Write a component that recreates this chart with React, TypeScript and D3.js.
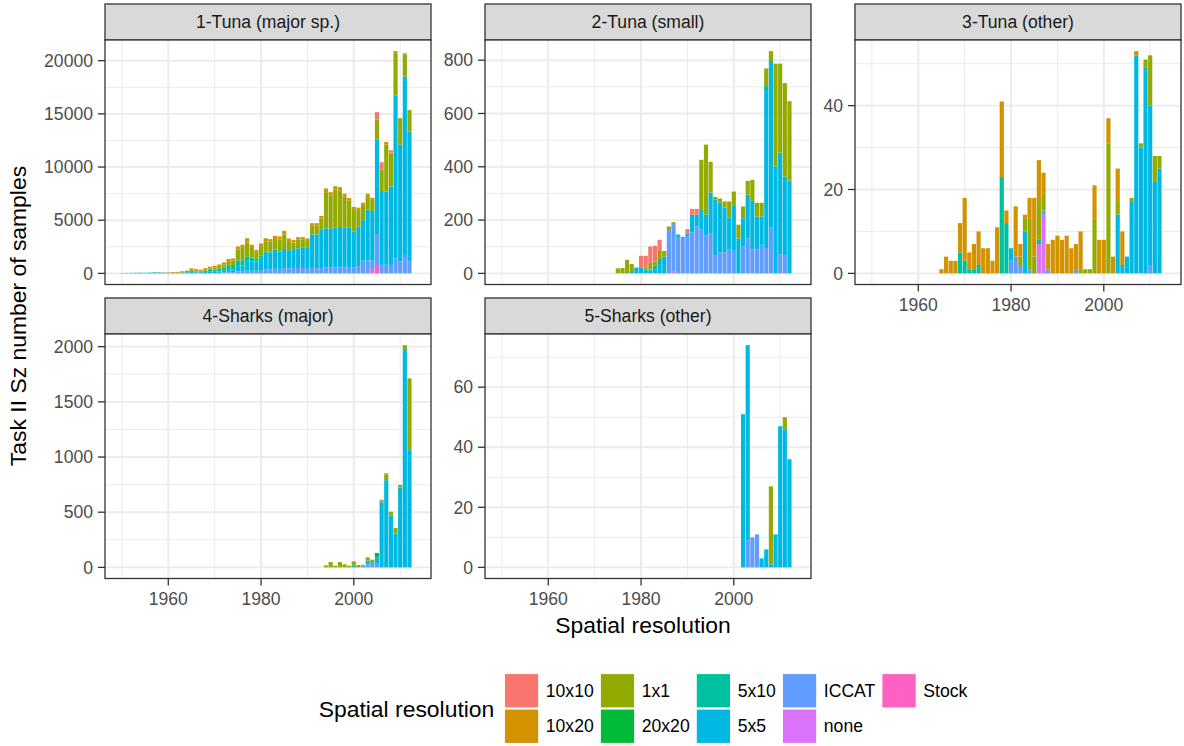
import * as d3 from 'd3';

// legend order; bars stack with the last entry at the bottom
const SERIES = ['10x10', '10x20', '1x1', '20x20', '5x10', '5x5', 'ICCAT', 'none', 'Stock'];
const COLOURS = ['#F8766D', '#D39200', '#93AA00', '#00BA38', '#00C19F', '#00B9E3', '#619CFF', '#DB72FB', '#FF61C3'];

// full year extent shared by all facets
const YEAR_FIRST = 1950;
const YEAR_LAST = 2013;
const X_TICKS = [1960, 1980, 2000];
const X_MINOR = [1950, 1970, 1990, 2010];

// rows: [year, 10x10, 10x20, 1x1, 20x20, 5x10, 5x5, ICCAT, none, Stock]
const tunaMajor = [
    [1950, 0, 0, 0, 0, 0, 30, 0, 0, 0],
    [1951, 0, 0, 0, 0, 0, 40, 0, 0, 0],
    [1952, 0, 0, 0, 0, 0, 50, 0, 0, 0],
    [1953, 0, 0, 0, 0, 0, 60, 0, 0, 0],
    [1954, 0, 0, 0, 0, 20, 50, 0, 0, 0],
    [1955, 0, 0, 0, 0, 0, 60, 0, 0, 0],
    [1956, 0, 0, 0, 0, 30, 50, 0, 0, 0],
    [1957, 0, 0, 0, 0, 40, 70, 0, 0, 0],
    [1958, 0, 0, 0, 0, 40, 60, 0, 0, 0],
    [1959, 0, 30, 0, 0, 0, 60, 0, 0, 0],
    [1960, 0, 40, 0, 0, 0, 60, 0, 0, 0],
    [1961, 0, 60, 0, 0, 0, 70, 0, 0, 0],
    [1962, 0, 80, 0, 0, 0, 60, 0, 0, 0],
    [1963, 0, 100, 0, 0, 40, 60, 0, 0, 0],
    [1964, 0, 130, 0, 0, 50, 80, 0, 0, 0],
    [1965, 0, 170, 80, 0, 100, 120, 0, 0, 0],
    [1966, 0, 150, 60, 0, 90, 100, 0, 0, 0],
    [1967, 0, 120, 50, 0, 80, 100, 0, 0, 0],
    [1968, 0, 140, 100, 0, 130, 130, 0, 0, 0],
    [1969, 0, 150, 150, 0, 180, 150, 0, 0, 0],
    [1970, 0, 150, 200, 0, 220, 150, 0, 0, 0],
    [1971, 0, 160, 250, 0, 250, 130, 50, 0, 0],
    [1972, 0, 180, 300, 0, 300, 150, 100, 0, 0],
    [1973, 0, 200, 450, 0, 400, 200, 100, 0, 0],
    [1974, 0, 220, 400, 0, 450, 220, 120, 0, 0],
    [1975, 0, 300, 1000, 0, 550, 480, 200, 0, 0],
    [1976, 0, 300, 1150, 0, 500, 540, 200, 0, 0],
    [1977, 0, 400, 1300, 0, 450, 900, 260, 0, 0],
    [1978, 0, 300, 900, 0, 350, 900, 240, 0, 0],
    [1979, 0, 200, 650, 0, 250, 880, 240, 0, 0],
    [1980, 0, 250, 900, 0, 150, 1200, 310, 0, 0],
    [1981, 0, 280, 1000, 0, 100, 1550, 380, 0, 0],
    [1982, 0, 250, 950, 0, 50, 1600, 370, 0, 0],
    [1983, 0, 300, 1000, 0, 0, 1800, 430, 0, 0],
    [1984, 0, 300, 1100, 0, 0, 1650, 420, 0, 0],
    [1985, 0, 350, 1350, 0, 0, 1850, 450, 0, 0],
    [1986, 0, 250, 850, 0, 0, 1700, 480, 0, 0],
    [1987, 0, 230, 700, 0, 0, 1700, 500, 0, 0],
    [1988, 0, 200, 850, 0, 0, 1850, 510, 0, 0],
    [1989, 0, 200, 750, 0, 0, 1950, 510, 0, 0],
    [1990, 0, 230, 650, 0, 0, 1900, 500, 0, 0],
    [1991, 0, 250, 800, 0, 0, 3150, 520, 0, 0],
    [1992, 0, 250, 800, 0, 0, 3200, 470, 0, 0],
    [1993, 0, 250, 1000, 0, 0, 3650, 500, 0, 0],
    [1994, 0, 350, 3400, 0, 0, 3700, 540, 0, 0],
    [1995, 0, 300, 3100, 0, 0, 3700, 540, 0, 0],
    [1996, 0, 300, 3600, 0, 0, 3750, 550, 0, 0],
    [1997, 0, 300, 3450, 0, 0, 3800, 560, 0, 0],
    [1998, 0, 250, 2900, 0, 0, 3800, 540, 0, 0],
    [1999, 0, 250, 2550, 0, 0, 3750, 530, 0, 0],
    [2000, 0, 200, 2100, 0, 0, 3400, 540, 0, 0],
    [2001, 0, 200, 1600, 0, 0, 3700, 680, 0, 0],
    [2002, 0, 200, 1450, 0, 0, 3800, 1200, 0, 0],
    [2003, 0, 200, 1300, 0, 0, 4790, 1200, 0, 0],
    [2004, 0, 200, 1050, 0, 0, 4660, 800, 0, 400],
    [2005, 700, 0, 1900, 0, 0, 8860, 3000, 0, 700],
    [2006, 700, 0, 2000, 0, 0, 6950, 800, 0, 0],
    [2007, 0, 250, 4400, 0, 0, 6900, 810, 0, 0],
    [2008, 200, 100, 3100, 0, 0, 7380, 800, 0, 0],
    [2009, 0, 200, 4000, 0, 0, 15300, 1400, 0, 0],
    [2010, 0, 0, 2500, 0, 0, 11000, 1100, 0, 0],
    [2011, 0, 100, 2100, 0, 0, 16850, 1650, 0, 0],
    [2012, 0, 0, 2000, 0, 0, 12250, 1100, 0, 0],
];

const tunaSmall = [
    [1975, 0, 0, 19, 0, 0, 0, 0, 0, 0],
    [1976, 0, 0, 20, 0, 0, 0, 0, 0, 0],
    [1977, 0, 0, 51, 0, 0, 0, 0, 0, 0],
    [1978, 0, 0, 30, 0, 0, 5, 0, 0, 0],
    [1979, 0, 0, 0, 0, 0, 22, 0, 0, 0],
    [1980, 46, 0, 0, 0, 0, 20, 0, 0, 0],
    [1981, 43, 0, 8, 0, 0, 15, 0, 0, 0],
    [1982, 61, 0, 25, 0, 5, 10, 0, 0, 0],
    [1983, 59, 0, 15, 0, 10, 20, 0, 0, 0],
    [1984, 42, 0, 30, 0, 19, 35, 0, 0, 0],
    [1985, 0, 0, 21, 0, 0, 63, 0, 0, 0],
    [1986, 0, 0, 9, 0, 0, 5, 162, 0, 0],
    [1987, 0, 0, 7, 0, 0, 0, 177, 8, 0],
    [1988, 0, 0, 0, 0, 0, 10, 136, 0, 0],
    [1989, 0, 0, 0, 0, 0, 4, 133, 0, 0],
    [1990, 16, 0, 0, 0, 0, 10, 140, 0, 0],
    [1991, 22, 0, 0, 0, 0, 67, 153, 0, 0],
    [1992, 22, 0, 0, 0, 0, 44, 176, 0, 0],
    [1993, 0, 0, 185, 0, 0, 75, 166, 0, 0],
    [1994, 0, 0, 263, 0, 0, 77, 143, 0, 0],
    [1995, 0, 0, 116, 0, 0, 152, 151, 0, 0],
    [1996, 0, 0, 9, 0, 0, 212, 66, 0, 0],
    [1997, 0, 0, 15, 0, 0, 187, 79, 0, 0],
    [1998, 0, 0, 23, 0, 0, 168, 79, 0, 0],
    [1999, 0, 0, 60, 0, 0, 121, 89, 0, 0],
    [2000, 0, 0, 54, 0, 0, 168, 85, 0, 0],
    [2001, 0, 0, 52, 0, 0, 131, 0, 0, 0],
    [2002, 0, 0, 44, 0, 0, 106, 101, 0, 0],
    [2003, 0, 0, 52, 0, 0, 164, 131, 0, 0],
    [2004, 0, 0, 79, 0, 0, 183, 89, 0, 0],
    [2005, 0, 0, 52, 0, 0, 124, 89, 0, 0],
    [2006, 0, 0, 52, 0, 0, 106, 107, 0, 0],
    [2007, 0, 0, 66, 0, 19, 589, 95, 0, 0],
    [2008, 0, 0, 37, 0, 0, 625, 172, 0, 0],
    [2009, 0, 0, 387, 0, 0, 400, 0, 0, 0],
    [2010, 0, 0, 334, 0, 0, 381, 72, 0, 0],
    [2011, 0, 0, 351, 0, 0, 294, 69, 0, 0],
    [2012, 0, 0, 298, 0, 0, 348, 0, 0, 0],
];

const tunaOther = [
    [1965, 0, 1, 0, 0, 0, 0, 0, 0, 0],
    [1966, 0, 4, 0, 0, 0, 0, 0, 0, 0],
    [1967, 0, 3, 0, 0, 0, 0, 0, 0, 0],
    [1968, 0, 3, 0, 0, 0, 0, 0, 0, 0],
    [1969, 0, 7, 0, 0, 5, 0, 0, 0, 0],
    [1970, 0, 15, 0, 0, 3, 0, 0, 0, 0],
    [1971, 0, 4, 0, 0, 1, 0, 0, 0, 0],
    [1972, 0, 6, 0, 0, 1, 0, 0, 0, 0],
    [1973, 0, 8, 0, 0, 2, 0, 0, 0, 0],
    [1974, 0, 6, 0, 0, 0, 0, 0, 0, 0],
    [1975, 0, 6, 0, 0, 0, 0, 0, 0, 0],
    [1976, 0, 3, 0, 0, 0, 0, 0, 0, 0],
    [1977, 0, 11, 0, 0, 0, 0, 0, 0, 0],
    [1978, 0, 18, 0, 0, 23, 0, 0, 0, 0],
    [1979, 0, 3, 0, 0, 12, 0, 0, 0, 0],
    [1980, 0, 0, 0, 0, 0, 3, 3, 0, 0],
    [1981, 0, 12, 0, 0, 0, 0, 4, 0, 0],
    [1982, 0, 3, 2, 0, 0, 0, 2, 0, 0],
    [1983, 0, 1, 3, 0, 0, 10, 0, 0, 0],
    [1984, 0, 5, 12, 0, 0, 0, 1, 0, 0],
    [1985, 0, 14, 4, 0, 0, 0, 0, 0, 0],
    [1986, 0, 10, 9, 0, 1, 0, 0, 7, 0],
    [1987, 0, 5, 4, 0, 0, 0, 1, 14, 0],
    [1988, 0, 6, 0, 0, 0, 0, 1, 0, 0],
    [1989, 0, 8, 0, 0, 0, 0, 0, 0, 0],
    [1990, 0, 9, 0, 0, 0, 0, 0, 0, 0],
    [1991, 0, 8, 0, 0, 0, 0, 0, 0, 0],
    [1992, 0, 9, 0, 0, 0, 0, 0, 0, 0],
    [1993, 0, 6, 0, 0, 0, 0, 0, 0, 0],
    [1994, 0, 6, 0, 0, 0, 0, 1, 0, 0],
    [1995, 0, 9, 1, 0, 0, 0, 0, 0, 0],
    [1996, 0, 0, 1, 0, 0, 0, 0, 0, 0],
    [1997, 0, 0, 1, 0, 0, 0, 0, 0, 0],
    [1998, 0, 8, 13, 0, 0, 0, 0, 0, 0],
    [1999, 0, 8, 0, 0, 0, 0, 0, 0, 0],
    [2000, 0, 8, 0, 0, 0, 0, 0, 0, 0],
    [2001, 0, 6, 31, 0, 0, 0, 0, 0, 0],
    [2002, 0, 4, 0, 0, 0, 0, 0, 0, 0],
    [2003, 0, 8, 3, 0, 0, 14, 0, 0, 0],
    [2004, 0, 8, 0, 0, 0, 2, 0, 0, 0],
    [2005, 0, 0, 0, 0, 0, 4, 0, 0, 0],
    [2006, 0, 0, 1, 0, 0, 17, 0, 0, 0],
    [2007, 0, 1, 0, 0, 0, 52, 0, 0, 0],
    [2008, 0, 0, 1, 0, 0, 30, 0, 0, 0],
    [2009, 0, 0, 2, 0, 0, 49, 0, 0, 0],
    [2010, 0, 0, 12, 0, 0, 38, 2, 0, 0],
    [2011, 0, 0, 6, 0, 0, 22, 0, 0, 0],
    [2012, 0, 0, 3, 0, 0, 25, 0, 0, 0],
];

const sharksMajor = [
    [1994, 0, 0, 18, 0, 0, 0, 0, 0, 0],
    [1995, 0, 0, 48, 0, 0, 0, 0, 0, 0],
    [1996, 0, 0, 15, 0, 0, 0, 0, 0, 0],
    [1997, 0, 0, 48, 0, 0, 0, 0, 0, 0],
    [1998, 0, 0, 27, 0, 0, 0, 0, 0, 0],
    [1999, 0, 0, 15, 0, 0, 0, 0, 0, 0],
    [2000, 0, 0, 39, 0, 0, 15, 0, 0, 0],
    [2001, 0, 0, 21, 0, 0, 0, 0, 0, 0],
    [2002, 0, 0, 6, 0, 0, 0, 18, 0, 0],
    [2003, 0, 0, 28, 0, 0, 36, 27, 0, 0],
    [2004, 0, 0, 22, 0, 0, 9, 39, 0, 0],
    [2005, 0, 0, 0, 37, 0, 60, 33, 0, 0],
    [2006, 6, 0, 18, 0, 0, 590, 0, 0, 0],
    [2007, 9, 0, 54, 0, 0, 790, 0, 0, 0],
    [2008, 0, 0, 36, 0, 0, 469, 0, 0, 0],
    [2009, 0, 0, 51, 0, 0, 306, 0, 0, 0],
    [2010, 0, 0, 24, 0, 0, 723, 0, 0, 0],
    [2011, 0, 0, 44, 0, 10, 1960, 0, 0, 0],
    [2012, 0, 0, 651, 0, 0, 1062, 0, 0, 0],
];

const sharksOther = [
    [2002, 0, 0, 0, 0, 0, 51, 0, 0, 0],
    [2003, 0, 0, 0, 0, 0, 65, 9, 0, 0],
    [2004, 0, 0, 0, 0, 0, 0, 10, 0, 0],
    [2005, 0, 0, 0, 0, 0, 0, 11, 0, 0],
    [2006, 0, 0, 0, 0, 0, 3, 0, 0, 0],
    [2007, 0, 0, 0, 0, 0, 6, 0, 0, 0],
    [2008, 0, 0, 26, 0, 0, 1, 0, 0, 0],
    [2009, 0, 0, 0, 0, 0, 11, 0, 0, 0],
    [2010, 0, 0, 0, 0, 0, 47, 0, 0, 0],
    [2011, 0, 0, 4, 0, 0, 46, 0, 0, 0],
    [2012, 0, 0, 0, 0, 0, 36, 0, 0, 0],
];

const PANELS = [
    { title: '1-Tuna (major sp.)', rows: tunaMajor, ticks: [0, 5000, 10000, 15000, 20000], col: 0, row: 0 },
    { title: '2-Tuna (small)', rows: tunaSmall, ticks: [0, 200, 400, 600, 800], col: 1, row: 0 },
    { title: '3-Tuna (other)', rows: tunaOther, ticks: [0, 20, 40], col: 2, row: 0 },
    { title: '4-Sharks (major)', rows: sharksMajor, ticks: [0, 500, 1000, 1500, 2000], col: 0, row: 1 },
    { title: '5-Sharks (other)', rows: sharksOther, ticks: [0, 20, 40, 60], col: 1, row: 1 },
];

const WIDTH = 1184;
const HEIGHT = 746;
const FONT = '"Liberation Sans", Arial, Helvetica, sans-serif';
const COL_X = [105, 485, 855];
const ROW_Y = [40, 334];
const PANEL_W = 326;
const PANEL_H = 244.5;
const STRIP_H = 36;
const TICK = 7;
const GRID = '#EBEBEB';
const DARK = '#333333';
const SMALL = 17.6;
const TITLE = 22.9;

const STACK_KEYS = [...SERIES].reverse();
const colour = d3.scaleOrdinal<string, string>().domain(SERIES).range(COLOURS);

function measure(text: string, size: number) {
    const ctx = document.createElement('canvas').getContext('2d');
    if (!ctx) return text.length * size * 0.55;
    ctx.font = `${size}px "Liberation Sans", Arial`;
    return ctx.measureText(text).width;
}

function Panel({ spec }: { spec: (typeof PANELS)[number] }) {
    const left = COL_X[spec.col];
    const top = ROW_Y[spec.row];
    const bottom = top + PANEL_H;
    const pad = (YEAR_LAST - YEAR_FIRST + 0.9) * 0.05;
    const x = d3
        .scaleLinear()
        .domain([YEAR_FIRST - 0.45 - pad, YEAR_LAST + 0.45 + pad])
        .range([left, left + PANEL_W]);
    const maxV = d3.max(spec.rows, (r) => d3.sum(r.slice(1))) ?? 1;
    const y = d3
        .scaleLinear()
        .domain([-0.05 * maxV, 1.05 * maxV])
        .range([bottom, top]);

    const table = spec.rows.map((r) => {
        const o: Record<string, number> = { year: r[0] };
        SERIES.forEach((s, i) => (o[s] = r[i + 1]));
        return o;
    });
    const stacked = d3.stack<Record<string, number>>().keys(STACK_KEYS)(table);

    const step = spec.ticks[1] - spec.ticks[0];
    const [d0, d1] = y.domain();
    const minor = [spec.ticks[0] - step / 2, ...spec.ticks.map((t) => t + step / 2)].filter(
        (t) => t > d0 && t < d1
    );
    const showX = spec.row === 1 || spec.col === 2;

    return (
        <g>
            {/* strip */}
            <rect
                x={left}
                y={top - STRIP_H}
                width={PANEL_W}
                height={STRIP_H}
                fill="#D9D9D9"
                stroke={DARK}
                strokeWidth={1.3}
            />
            <text
                x={left + PANEL_W / 2}
                y={top - STRIP_H / 2 + 6.3}
                textAnchor="middle"
                fontSize={SMALL}
                fill="#1A1A1A"
            >
                {spec.title}
            </text>
            <rect x={left} y={top} width={PANEL_W} height={PANEL_H} fill="#fff" />
            {/* grid */}
            {minor.map((t) => (
                <line key={'ym' + t} x1={left} x2={left + PANEL_W} y1={y(t)} y2={y(t)} stroke={GRID} strokeWidth={1} />
            ))}
            {X_MINOR.map((t) => (
                <line key={'xm' + t} x1={x(t)} x2={x(t)} y1={top} y2={bottom} stroke={GRID} strokeWidth={1} />
            ))}
            {spec.ticks.map((t) => (
                <line key={'y' + t} x1={left} x2={left + PANEL_W} y1={y(t)} y2={y(t)} stroke={GRID} strokeWidth={1.9} />
            ))}
            {X_TICKS.map((t) => (
                <line key={'x' + t} x1={x(t)} x2={x(t)} y1={top} y2={bottom} stroke={GRID} strokeWidth={1.9} />
            ))}
            {/* bars */}
            {stacked.map((layer) => (
                <g key={layer.key} fill={colour(layer.key)}>
                    {layer.map((d, i) =>
                        d[1] - d[0] > 0 ? (
                            <rect
                                key={i}
                                x={x(d.data.year - 0.45)}
                                width={x(d.data.year + 0.45) - x(d.data.year - 0.45)}
                                y={y(d[1])}
                                height={y(d[0]) - y(d[1])}
                            />
                        ) : null
                    )}
                </g>
            ))}
            <rect x={left} y={top} width={PANEL_W} height={PANEL_H} fill="none" stroke={DARK} strokeWidth={1.3} />
            {/* y axis */}
            {spec.ticks.map((t) => (
                <g key={'yt' + t}>
                    <line x1={left - TICK} x2={left} y1={y(t)} y2={y(t)} stroke={DARK} strokeWidth={1.3} />
                    <text x={left - TICK - 5} y={y(t) + 6.2} textAnchor="end" fontSize={SMALL} fill="#4D4D4D">
                        {t}
                    </text>
                </g>
            ))}
            {/* x axis */}
            {showX &&
                X_TICKS.map((t) => (
                    <g key={'xt' + t}>
                        <line x1={x(t)} x2={x(t)} y1={bottom} y2={bottom + TICK} stroke={DARK} strokeWidth={1.3} />
                        <text x={x(t)} y={bottom + TICK + 19} textAnchor="middle" fontSize={SMALL} fill="#4D4D4D">
                            {t}
                        </text>
                    </g>
                ))}
        </g>
    );
}

function Legend() {
    const title = 'Spatial resolution';
    const key = 34.5;
    const labelGap = 7;
    const colGap = 6.5;
    const nCol = Math.ceil(SERIES.length / 2);
    const cols = d3.range(nCol).map((c) => SERIES.slice(c * 2, c * 2 + 2));
    const titleW = measure(title, TITLE);
    const colW = cols.map((c) => key + labelGap + (d3.max(c, (s) => measure(s, SMALL)) ?? 0));
    const total = titleW + 10 + d3.sum(colW) + colGap * (nCol - 1);
    const centre = (COL_X[0] + COL_X[2] + PANEL_W) / 2;
    const x0 = centre - total / 2;
    const top = 673.5;
    let cx = x0 + titleW + 10;
    const colX = colW.map((w) => {
        const v = cx;
        cx += w + colGap;
        return v;
    });
    return (
        <g>
            <text x={x0} y={top + key + 9} fontSize={TITLE} fill="#000">
                {title}
            </text>
            {cols.map((c, ci) =>
                c.map((s, ri) => (
                    <g key={s}>
                        <rect
                            x={colX[ci]}
                            y={top + ri * (key + 1)}
                            width={key}
                            height={key}
                            fill={colour(s)}
                            stroke="#fff"
                            strokeWidth={1.2}
                        />
                        <text
                            x={colX[ci] + key + labelGap}
                            y={top + ri * (key + 1) + key / 2 + 6.2}
                            fontSize={SMALL}
                            fill="#000"
                        >
                            {s}
                        </text>
                    </g>
                ))
            )}
        </g>
    );
}

export default function App() {
    const centreX = (COL_X[0] + COL_X[2] + PANEL_W) / 2;
    return (
        <div style={{ position: 'absolute', left: 0, top: 0 }}>
            <svg width={WIDTH} height={HEIGHT} viewBox={`0 0 ${WIDTH} ${HEIGHT}`} fontFamily={FONT}>
                <rect width={WIDTH} height={HEIGHT} fill="#fff" />
                {PANELS.map((p) => (
                    <Panel key={p.title} spec={p} />
                ))}
                <text x={centreX} y={633} textAnchor="middle" fontSize={TITLE} fill="#000">
                    Spatial resolution
                </text>
                <text transform="translate(26, 316) rotate(-90)" textAnchor="middle" fontSize={TITLE} fill="#000">
                    Task II Sz number of samples
                </text>
                <Legend />
            </svg>
        </div>
    );
}
